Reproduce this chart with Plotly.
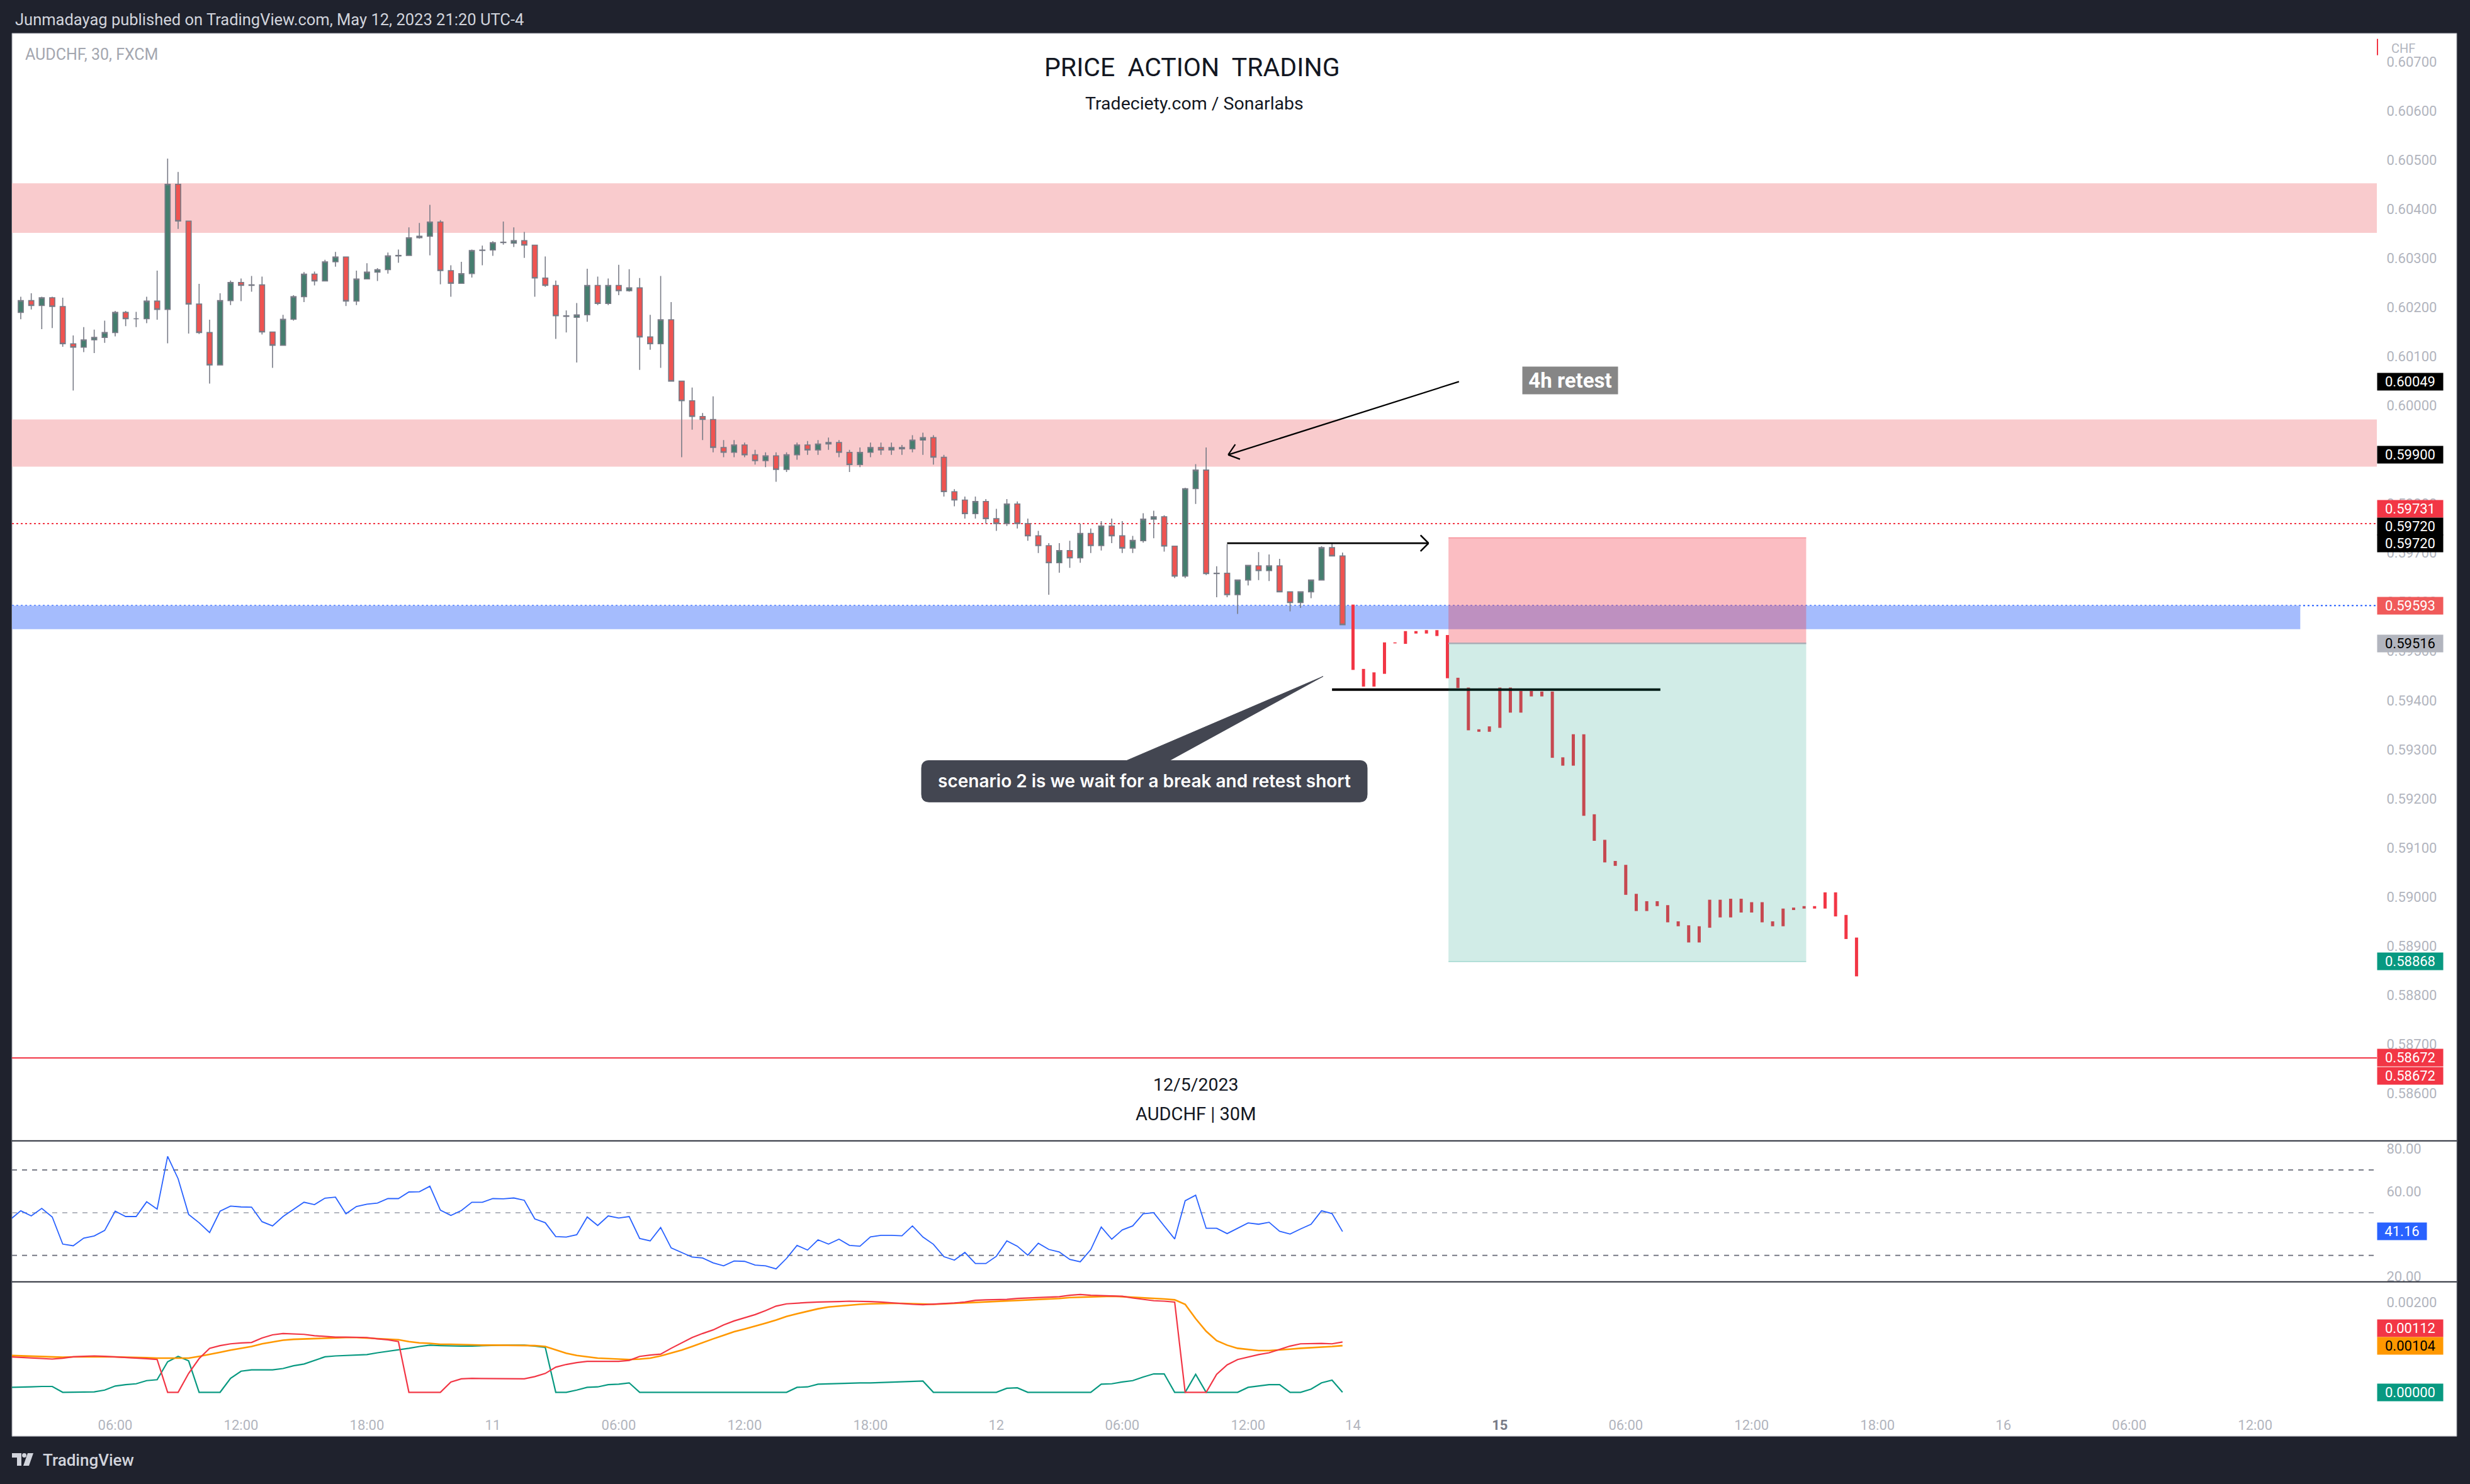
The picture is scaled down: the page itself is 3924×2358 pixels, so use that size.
import math
import plotly.graph_objects as go

W, H = 3924, 2358
FONT = "Roboto, 'Open Sans', 'DejaVu Sans', sans-serif"

# ---------------- data ----------------
candle_idx = list(range(-45, 82))   # 30m bars, 0 = 11 May 00:00
candle_open = [
    0.60190, 0.60214, 0.60204, 0.60220, 0.60202, 0.60126, 0.60119, 0.60134, 0.60139, 0.60149,
    0.60190, 0.60177, 0.60177, 0.60213, 0.60196, 0.60451, 0.60376, 0.60207, 0.60149, 0.60083,
    0.60214, 0.60251, 0.60245, 0.60246, 0.60150, 0.60123, 0.60176, 0.60222, 0.60268, 0.60254,
    0.60293, 0.60303, 0.60213, 0.60258, 0.60272, 0.60277, 0.60305, 0.60306, 0.60342, 0.60345,
    0.60374, 0.60275, 0.60249, 0.60269, 0.60316, 0.60317, 0.60332, 0.60331, 0.60336, 0.60327,
    0.60260, 0.60245, 0.60183, 0.60180, 0.60185, 0.60245, 0.60208, 0.60245, 0.60234, 0.60240,
    0.60140, 0.60126, 0.60175, 0.60050, 0.60010, 0.59978, 0.59972, 0.59915, 0.59905, 0.59920,
    0.59900, 0.59888, 0.59898, 0.59870, 0.59900, 0.59920, 0.59910, 0.59922, 0.59925, 0.59905,
    0.59880, 0.59905, 0.59915, 0.59910, 0.59915, 0.59912, 0.59930, 0.59935, 0.59895, 0.59825,
    0.59808, 0.59780, 0.59805, 0.59770, 0.59760, 0.59800, 0.59760, 0.59735, 0.59715, 0.59680,
    0.59705, 0.59690, 0.59740, 0.59715, 0.59755, 0.59735, 0.59710, 0.59725, 0.59769, 0.59774,
    0.59714, 0.59653, 0.59831, 0.59869, 0.59659, 0.59659, 0.59615, 0.59645, 0.59674, 0.59664,
    0.59674, 0.59621, 0.59599, 0.59621, 0.59645, 0.59711, 0.59694]
candle_high = [
    0.60222, 0.60229, 0.60222, 0.60222, 0.60220, 0.60143, 0.60160, 0.60155, 0.60173, 0.60193,
    0.60193, 0.60191, 0.60222, 0.60275, 0.60503, 0.60476, 0.60376, 0.60248, 0.60175, 0.60229,
    0.60255, 0.60259, 0.60264, 0.60263, 0.60150, 0.60185, 0.60225, 0.60272, 0.60273, 0.60297,
    0.60313, 0.60303, 0.60275, 0.60290, 0.60280, 0.60312, 0.60318, 0.60363, 0.60372, 0.60409,
    0.60378, 0.60286, 0.60293, 0.60318, 0.60326, 0.60335, 0.60375, 0.60363, 0.60354, 0.60327,
    0.60304, 0.60255, 0.60194, 0.60209, 0.60279, 0.60263, 0.60259, 0.60287, 0.60278, 0.60260,
    0.60185, 0.60264, 0.60211, 0.60050, 0.60037, 0.59985, 0.60019, 0.59930, 0.59930, 0.59925,
    0.59910, 0.59905, 0.59905, 0.59905, 0.59925, 0.59928, 0.59930, 0.59935, 0.59930, 0.59910,
    0.59915, 0.59925, 0.59925, 0.59925, 0.59920, 0.59940, 0.59945, 0.59940, 0.59900, 0.59830,
    0.59815, 0.59815, 0.59810, 0.59790, 0.59810, 0.59805, 0.59770, 0.59745, 0.59720, 0.59720,
    0.59725, 0.59760, 0.59750, 0.59765, 0.59770, 0.59765, 0.59735, 0.59781, 0.59786, 0.59777,
    0.59714, 0.59833, 0.59881, 0.59915, 0.59673, 0.59718, 0.59645, 0.59675, 0.59702, 0.59697,
    0.59688, 0.59621, 0.59621, 0.59645, 0.59714, 0.59721, 0.59701]
candle_low = [
    0.60176, 0.60196, 0.60156, 0.60158, 0.60120, 0.60031, 0.60109, 0.60107, 0.60128, 0.60141,
    0.60162, 0.60160, 0.60168, 0.60175, 0.60127, 0.60360, 0.60147, 0.60146, 0.60045, 0.60082,
    0.60205, 0.60213, 0.60232, 0.60145, 0.60077, 0.60123, 0.60173, 0.60211, 0.60245, 0.60254,
    0.60283, 0.60203, 0.60205, 0.60258, 0.60254, 0.60269, 0.60291, 0.60305, 0.60340, 0.60306,
    0.60247, 0.60222, 0.60249, 0.60261, 0.60286, 0.60305, 0.60328, 0.60323, 0.60301, 0.60222,
    0.60242, 0.60136, 0.60149, 0.60088, 0.60171, 0.60205, 0.60205, 0.60225, 0.60232, 0.60073,
    0.60114, 0.60077, 0.60050, 0.59895, 0.59951, 0.59930, 0.59905, 0.59895, 0.59895, 0.59895,
    0.59880, 0.59875, 0.59845, 0.59865, 0.59890, 0.59900, 0.59900, 0.59910, 0.59895, 0.59865,
    0.59875, 0.59895, 0.59900, 0.59900, 0.59900, 0.59905, 0.59900, 0.59880, 0.59815, 0.59795,
    0.59770, 0.59770, 0.59760, 0.59745, 0.59755, 0.59750, 0.59725, 0.59700, 0.59615, 0.59660,
    0.59670, 0.59680, 0.59700, 0.59705, 0.59720, 0.59700, 0.59700, 0.59721, 0.59730, 0.59703,
    0.59649, 0.59649, 0.59800, 0.59655, 0.59610, 0.59610, 0.59576, 0.59634, 0.59645, 0.59643,
    0.59621, 0.59581, 0.59588, 0.59608, 0.59645, 0.59694, 0.59554]
candle_close = [
    0.60214, 0.60204, 0.60220, 0.60202, 0.60126, 0.60119, 0.60134, 0.60139, 0.60149, 0.60190,
    0.60177, 0.60177, 0.60213, 0.60196, 0.60451, 0.60376, 0.60207, 0.60149, 0.60083, 0.60214,
    0.60251, 0.60245, 0.60246, 0.60150, 0.60123, 0.60176, 0.60222, 0.60268, 0.60254, 0.60293,
    0.60303, 0.60213, 0.60258, 0.60272, 0.60277, 0.60305, 0.60306, 0.60342, 0.60345, 0.60374,
    0.60275, 0.60249, 0.60269, 0.60316, 0.60317, 0.60332, 0.60333, 0.60336, 0.60327, 0.60260,
    0.60245, 0.60183, 0.60182, 0.60185, 0.60245, 0.60208, 0.60245, 0.60234, 0.60240, 0.60140,
    0.60126, 0.60175, 0.60050, 0.60010, 0.59978, 0.59972, 0.59915, 0.59905, 0.59920, 0.59900,
    0.59888, 0.59898, 0.59870, 0.59900, 0.59920, 0.59910, 0.59922, 0.59925, 0.59905, 0.59880,
    0.59905, 0.59915, 0.59910, 0.59915, 0.59912, 0.59930, 0.59935, 0.59895, 0.59825, 0.59808,
    0.59780, 0.59805, 0.59770, 0.59760, 0.59800, 0.59760, 0.59735, 0.59715, 0.59680, 0.59705,
    0.59690, 0.59740, 0.59715, 0.59755, 0.59735, 0.59710, 0.59726, 0.59769, 0.59774, 0.59714,
    0.59653, 0.59831, 0.59869, 0.59658, 0.59658, 0.59615, 0.59645, 0.59675, 0.59664, 0.59674,
    0.59621, 0.59599, 0.59621, 0.59645, 0.59711, 0.59694, 0.59554]

# projected "bars pattern" (drawing) after the weekend
pattern_idx = list(range(82, 131))
pattern_high = [
    0.59595, 0.59464, 0.59457, 0.59518, 0.59518, 0.59541, 0.59541, 0.59543, 0.59543, 0.59533,
    0.59446, 0.59426, 0.59341, 0.59347, 0.59426, 0.59426, 0.59419, 0.59419, 0.59418, 0.59418,
    0.59284, 0.59331, 0.59331, 0.59168, 0.59116, 0.59073, 0.59065, 0.59006, 0.58991, 0.58991,
    0.58983, 0.58950, 0.58942, 0.58940, 0.58994, 0.58994, 0.58996, 0.58996, 0.58989, 0.58989,
    0.58950, 0.58976, 0.58978, 0.58981, 0.58981, 0.59009, 0.59009, 0.58963, 0.58917]
pattern_low = [
    0.59462, 0.59428, 0.59428, 0.59454, 0.59516, 0.59515, 0.59536, 0.59536, 0.59531, 0.59445,
    0.59425, 0.59339, 0.59336, 0.59336, 0.59344, 0.59375, 0.59375, 0.59408, 0.59408, 0.59283,
    0.59267, 0.59267, 0.59165, 0.59114, 0.59070, 0.59063, 0.59004, 0.58971, 0.58971, 0.58981,
    0.58948, 0.58940, 0.58907, 0.58907, 0.58937, 0.58958, 0.58958, 0.58968, 0.58968, 0.58948,
    0.58940, 0.58940, 0.58973, 0.58976, 0.58976, 0.58976, 0.58960, 0.58914, 0.58838]

ind_idx = list(range(-46, 82))
rsi = [
    46.8, 50.9, 48.5, 52.0, 48.0, 35.3, 34.5, 38.1, 39.1, 41.7,
    50.7, 48.2, 48.2, 55.1, 51.7, 76.4, 65.9, 49.2, 45.3, 40.7,
    50.7, 53.1, 52.7, 52.6, 45.8, 43.8, 48.2, 51.5, 54.9, 53.8,
    56.8, 57.3, 49.5, 52.9, 54.0, 54.5, 56.6, 56.6, 59.7, 59.8,
    62.4, 51.2, 48.7, 51.0, 54.9, 54.9, 56.6, 56.5, 56.9, 55.8,
    47.1, 45.3, 38.8, 38.6, 39.7, 48.0, 44.0, 48.5, 47.5, 48.2,
    37.9, 36.8, 43.1, 33.5, 31.3, 29.2, 28.8, 26.5, 25.1, 27.4,
    27.2, 25.5, 25.1, 23.7, 28.6, 34.7, 32.5, 37.3, 35.3, 37.6,
    34.7, 34.3, 38.7, 39.4, 39.4, 39.2, 43.8, 38.6, 35.2, 29.4,
    27.8, 31.4, 26.2, 26.2, 29.6, 36.8, 34.3, 30.1, 35.7, 32.8,
    31.6, 28.1, 27.0, 32.7, 43.3, 37.6, 41.9, 43.8, 49.5, 50.0,
    43.8, 37.7, 55.6, 58.2, 42.7, 42.7, 40.2, 42.7, 45.2, 44.6,
    45.5, 41.3, 40.0, 42.4, 44.6, 50.9, 49.6, 41.16]
ind_red = [
    0.00079, 0.00078, 0.00077, 0.00075, 0.00074, 0.00076, 0.00079, 0.00080, 0.00081, 0.00080,
    0.00079, 0.00078, 0.00077, 0.00075, 0.00073, 0.0, 0.0, 0.00042, 0.00075, 0.00098,
    0.00104, 0.00108, 0.00110, 0.00111, 0.00121, 0.00128, 0.00131, 0.00130, 0.00129, 0.00126,
    0.00124, 0.00123, 0.00123, 0.00122, 0.00122, 0.00119, 0.00117, 0.00113, 0.0, 0.0,
    0.0, 0.0, 0.00023, 0.00030, 0.00031, 0.00031, 0.00031, 0.00031, 0.00031, 0.00030,
    0.00035, 0.00042, 0.00056, 0.00062, 0.00066, 0.00069, 0.00069, 0.00069, 0.00069, 0.00071,
    0.00080, 0.00083, 0.00085, 0.00098, 0.00110, 0.00122, 0.00131, 0.00139, 0.00150, 0.00159,
    0.00166, 0.00173, 0.00182, 0.00192, 0.00197, 0.00199, 0.00200, 0.00201, 0.00201, 0.00202,
    0.00203, 0.00203, 0.00202, 0.00201, 0.00199, 0.00198, 0.00196, 0.00195, 0.00196, 0.00197,
    0.00199, 0.00201, 0.00205, 0.00206, 0.00206, 0.00207, 0.00209, 0.00210, 0.00211, 0.00211,
    0.00213, 0.00216, 0.00218, 0.00216, 0.00215, 0.00214, 0.00214, 0.00210, 0.00207, 0.00204,
    0.00203, 0.00201, 0.0, 0.0, 0.0, 0.00040, 0.00061, 0.00073, 0.00079, 0.00084,
    0.00088, 0.00096, 0.00103, 0.00108, 0.00109, 0.00109, 0.00108, 0.00112]
ind_orange = [
    0.00082, 0.00081, 0.00080, 0.00079, 0.00078, 0.00078, 0.00079, 0.00079, 0.00080, 0.00079,
    0.00079, 0.00078, 0.00078, 0.00077, 0.00076, 0.00076, 0.00075, 0.00076, 0.00080, 0.00084,
    0.00089, 0.00094, 0.00098, 0.00102, 0.00108, 0.00112, 0.00116, 0.00118, 0.00119, 0.00120,
    0.00121, 0.00121, 0.00122, 0.00122, 0.00121, 0.00120, 0.00119, 0.00117, 0.00113, 0.00110,
    0.00109, 0.00107, 0.00107, 0.00106, 0.00105, 0.00105, 0.00105, 0.00105, 0.00105, 0.00104,
    0.00104, 0.00102, 0.00094, 0.00087, 0.00082, 0.00079, 0.00076, 0.00075, 0.00074, 0.00073,
    0.00074, 0.00076, 0.00081, 0.00087, 0.00094, 0.00102, 0.00111, 0.00119, 0.00127, 0.00135,
    0.00141, 0.00147, 0.00154, 0.00161, 0.00169, 0.00175, 0.00181, 0.00186, 0.00190, 0.00192,
    0.00195, 0.00196, 0.00197, 0.00198, 0.00198, 0.00198, 0.00197, 0.00197, 0.00196, 0.00197,
    0.00198, 0.00199, 0.00200, 0.00201, 0.00203, 0.00204, 0.00205, 0.00206, 0.00207, 0.00208,
    0.00209, 0.00211, 0.00212, 0.00213, 0.00214, 0.00214, 0.00213, 0.00212, 0.00211, 0.00210,
    0.00208, 0.00206, 0.00196, 0.00164, 0.00136, 0.00115, 0.00105, 0.00098, 0.00095, 0.00093,
    0.00093, 0.00094, 0.00096, 0.00098, 0.00099, 0.00101, 0.00102, 0.00104]
ind_green = [
    0.00011, 0.00011, 0.00012, 0.00013, 0.00013, 0.0, 0.0, 0.0, 0.00001, 0.00005,
    0.00014, 0.00017, 0.00019, 0.00026, 0.00028, 0.00068, 0.00080, 0.00070, 0.0, 0.0,
    0.0, 0.00031, 0.00047, 0.00050, 0.00050, 0.00050, 0.00053, 0.00059, 0.00063, 0.00071,
    0.00079, 0.00081, 0.00082, 0.00083, 0.00084, 0.00088, 0.00091, 0.00095, 0.00098, 0.00102,
    0.00105, 0.00104, 0.00103, 0.00103, 0.00103, 0.00104, 0.00104, 0.00105, 0.00105, 0.00105,
    0.00103, 0.00100, 0.0, 0.0, 0.00005, 0.00011, 0.00012, 0.00017, 0.00018, 0.00021,
    0.0, 0.0, 0.0, 0.0, 0.0, 0.0, 0.0, 0.0, 0.0, 0.0,
    0.00001, 0.0, 0.0, 0.0, 0.0, 0.00011, 0.00012, 0.00018, 0.00019, 0.00019,
    0.00020, 0.00021, 0.00021, 0.00022, 0.00023, 0.00023, 0.00024, 0.00025, 0.0, 0.0,
    0.0, 0.0, 0.0, 0.0, 0.0, 0.00009, 0.00010, 0.0, 0.0, 0.0,
    0.0, 0.0, 0.0, 0.0, 0.00018, 0.00019, 0.00023, 0.00026, 0.00034, 0.00041,
    0.00041, 0.0, 0.0, 0.00040, 0.0, 0.0, 0.0, 0.0, 0.00011, 0.00014,
    0.00017, 0.00017, 0.0, 0.0, 0.00007, 0.00021, 0.00027, 0.0]

time_tick_idx = [-36, -24, -12, 0, 12, 24, 36, 48, 60, 72, 82, 96, 108, 120, 132, 144, 156, 168]
time_tick_text = ["06:00", "12:00", "18:00", "11", "06:00", "12:00", "18:00", "12", "06:00",
                  "12:00", "14", "<span style='color:#787b86'><b>15</b></span>", "06:00", "12:00",
                  "18:00", "16", "06:00", "12:00"]

# drawing levels
zone_upper = [0.60352, 0.60453]
zone_middle = [0.59876, 0.59972]
zone_blue = [0.59545, 0.59593]
zone_blue_end = 172.3
red_dotted_level = 0.59760
blue_dotted_level = 0.59593
bottom_line_level = 0.58672
entry, stop, target = 0.59516, 0.59731, 0.58868
position_x = [91.1, 125.2]
break_line = [(80.0, 0.59422), (111.3, 0.59422)]
retest_arrow = [(92.1, 0.60049), (70.1, 0.59900)]
ray_arrow = [(70.0, 0.59720), (89.2, 0.59720)]

# ---------------- geometry ----------------
PLOT_L, PLOT_R = 19, 3776
MAIN_T, MAIN_B = 53, 1816
RSI_T, RSI_B = 1817, 2041
IND_T, IND_B = 2041, 2245

def fx(p):
    return p / W

def fy(p):
    return 1 - p / H

XR = [-45.84, 179.6]
YR = [0.585038, 0.607583]
RSI_R = [17.65, 83.53]
IND_R = [-0.000392, 0.002462]
KX = (PLOT_R - PLOT_L) / (XR[1] - XR[0])
KY = (MAIN_B - MAIN_T) / (YR[1] - YR[0])

fig = go.Figure()

fig.add_trace(go.Candlestick(
    x=candle_idx, open=candle_open, high=candle_high, low=candle_low, close=candle_close,
    increasing=dict(fillcolor="#457e6f", line=dict(color="#787b86", width=1.6)),
    decreasing=dict(fillcolor="#ef5350", line=dict(color="#787b86", width=1.6)),
    xaxis="x", yaxis="y", hoverinfo="skip"))

px_, py_ = [], []
for i, hi, lo in zip(pattern_idx, pattern_high, pattern_low):
    px_ += [i, i, None]
    py_ += [lo, hi, None]
fig.add_trace(go.Scatter(x=px_, y=py_, mode="lines", line=dict(color="#f23645", width=5),
                         xaxis="x", yaxis="y", hoverinfo="skip"))

fig.add_trace(go.Scatter(x=ind_idx, y=rsi, mode="lines", line=dict(color="#2962ff", width=1.8),
                         xaxis="x2", yaxis="y2", hoverinfo="skip"))
fig.add_trace(go.Scatter(x=ind_idx, y=ind_green, mode="lines", line=dict(color="#089981", width=2.2),
                         xaxis="x3", yaxis="y3", hoverinfo="skip"))
fig.add_trace(go.Scatter(x=ind_idx, y=ind_orange, mode="lines", line=dict(color="#ff9800", width=2.6),
                         xaxis="x3", yaxis="y3", hoverinfo="skip"))
fig.add_trace(go.Scatter(x=ind_idx, y=ind_red, mode="lines", line=dict(color="#f23645", width=2.2),
                         xaxis="x3", yaxis="y3", hoverinfo="skip"))

shapes = []
# white panel
shapes.append(dict(type="rect", xref="paper", yref="paper", x0=fx(19), x1=fx(3903), y0=fy(2287), y1=fy(53),
                   fillcolor="#ffffff", line=dict(color="#9598a1", width=1), layer="below"))
# zones (below)
for lo, hi in (zone_upper, zone_middle):
    shapes.append(dict(type="rect", xref="x domain", yref="y", x0=0, x1=1, y0=lo, y1=hi,
                       fillcolor="#f9cbcd", line=dict(width=0), layer="below"))
shapes.append(dict(type="rect", xref="x", yref="y", x0=XR[0] - 5, x1=zone_blue_end, y0=zone_blue[0], y1=zone_blue[1],
                   fillcolor="#a5bcfd", line=dict(width=0), layer="below"))
shapes.append(dict(type="line", xref="x domain", yref="y", x0=0, x1=1, y0=red_dotted_level, y1=red_dotted_level,
                   line=dict(color="#f23645", width=2, dash="3px,4px"), layer="below"))
shapes.append(dict(type="line", xref="x domain", yref="y", x0=0, x1=1, y0=blue_dotted_level, y1=blue_dotted_level,
                   line=dict(color="#2962ff", width=2, dash="3px,4px"), layer="below"))
shapes.append(dict(type="line", xref="x domain", yref="y", x0=0, x1=1, y0=bottom_line_level, y1=bottom_line_level,
                   line=dict(color="#f23645", width=2), layer="below"))
# RSI guide lines
for lvl, col in ((70, "#787b86"), (50, "#b2b5be"), (30, "#787b86")):
    shapes.append(dict(type="line", xref="x2 domain", yref="y2", x0=0, x1=1, y0=lvl, y1=lvl,
                       line=dict(color=col, width=2, dash="8px,8px"), layer="below"))
# pane separators
for yy in (MAIN_B + 0.5, RSI_B):
    shapes.append(dict(type="line", xref="paper", yref="paper", x0=fx(19), x1=fx(3903), y0=fy(yy), y1=fy(yy),
                       line=dict(color="#2a2e39", width=2), layer="above"))

# break line (under the position tool)
shapes.append(dict(type="line", xref="x", yref="y", x0=break_line[0][0], x1=break_line[1][0],
                   y0=break_line[0][1], y1=break_line[1][1], line=dict(color="#000000", width=4), layer="above"))
# position tool
shapes.append(dict(type="rect", xref="x", yref="y", x0=position_x[0], x1=position_x[1], y0=entry, y1=stop,
                   fillcolor="rgba(242,54,69,0.33)", line=dict(width=0), layer="above"))
shapes.append(dict(type="rect", xref="x", yref="y", x0=position_x[0], x1=position_x[1], y0=target, y1=entry,
                   fillcolor="rgba(8,153,129,0.19)", line=dict(width=0), layer="above"))
shapes.append(dict(type="line", xref="x", yref="y", x0=position_x[0], x1=position_x[1], y0=stop, y1=stop,
                   line=dict(color="rgba(242,54,69,0.45)", width=1.5), layer="above"))
shapes.append(dict(type="line", xref="x", yref="y", x0=position_x[0], x1=position_x[1], y0=entry, y1=entry,
                   line=dict(color="#a9acb5", width=2.5), layer="above"))
shapes.append(dict(type="line", xref="x", yref="y", x0=position_x[0], x1=position_x[1], y0=target, y1=target,
                   line=dict(color="rgba(8,153,129,0.3)", width=1.5), layer="above"))


def arrow(a, b, width, head=20, ang=38):
    out = [dict(type="line", xref="x", yref="y", x0=a[0], y0=a[1], x1=b[0], y1=b[1],
                line=dict(color="#000000", width=width), layer="above")]
    dx = (b[0] - a[0]) * KX
    dy = (b[1] - a[1]) * KY
    L = math.hypot(dx, dy)
    vx, vy = -dx / L, -dy / L
    for s in (1, -1):
        t = math.radians(ang) * s
        rx = vx * math.cos(t) - vy * math.sin(t)
        ry = vx * math.sin(t) + vy * math.cos(t)
        out.append(dict(type="line", xref="x", yref="y", x0=b[0], y0=b[1],
                        x1=b[0] + head * rx / KX, y1=b[1] + head * ry / KY,
                        line=dict(color="#000000", width=width), layer="above"))
    return out


shapes += arrow(retest_arrow[0], retest_arrow[1], 2.2)
shapes += arrow(ray_arrow[0], ray_arrow[1], 2.6, head=18, ang=45)


def P(x, y):
    return f"{fx(x):.6f},{fy(y):.6f}"


# callout bubble with a tail
bx0, by0, bx1, by1, r = 1464, 1211, 2172, 1277, 12
path = (f"M{P(bx0 + r, by0)} L{P(1790, by0)} L{P(2102, 1077)} L{P(1858, by0)} L{P(bx1 - r, by0)} "
        f"Q{P(bx1, by0)} {P(bx1, by0 + r)} L{P(bx1, by1 - r)} Q{P(bx1, by1)} {P(bx1 - r, by1)} "
        f"L{P(bx0 + r, by1)} Q{P(bx0, by1)} {P(bx0, by1 - r)} L{P(bx0, by0 + r)} Q{P(bx0, by0)} {P(bx0 + r, by0)} Z")
shapes.append(dict(type="path", xref="paper", yref="paper", path=path, fillcolor="#434651",
                   line=dict(color="#434651", width=1), layer="above"))
# CHF marker
shapes.append(dict(type="line", xref="paper", yref="paper", x0=fx(3777), x1=fx(3777), y0=fy(62), y1=fy(88),
                   line=dict(color="#f23645", width=2), layer="above"))
# TradingView logo
logo = (f"M{P(19, 2314)} L{P(34, 2314)} L{P(34, 2334)} L{P(27, 2334)} L{P(27, 2321)} L{P(19, 2321)} Z "
        f"M{P(44, 2314)} L{P(53, 2314)} L{P(46, 2334)} L{P(37, 2334)} Z")
shapes.append(dict(type="path", xref="paper", yref="paper", path=logo, fillcolor="#d1d4dc",
                   line=dict(width=0), layer="above"))
shapes.append(dict(type="circle", xref="paper", yref="paper", x0=fx(35), x1=fx(42), y0=fy(2321), y1=fy(2314),
                   fillcolor="#d1d4dc", line=dict(width=0), layer="above"))

ann = []


def text(x, y, s, size, color="#131722", anchor="center", weight=None, family=FONT):
    f = dict(size=size, color=color, family=family)
    if weight:
        f["weight"] = weight
    ann.append(dict(xref="paper", yref="paper", x=fx(x), y=fy(y), text=s, showarrow=False,
                    xanchor=anchor, yanchor="middle", font=f))


text(22, 31, "Junmadayag published on TradingView.com, May 12, 2023 21:20 UTC-4", 25.5, "#d1d4dc", "left")
text(38, 87, "AUDCHF, 30, FXCM", 25, "#a3a6af", "left")
text(1894, 107, "PRICE  ACTION  TRADING", 41)
text(1897, 165, "Tradeciety.com / Sonarlabs", 28.5)
text(1900, 1727, "12/5/2023", 28.5)
text(1900, 1774, "AUDCHF | 30M", 29)
text(3797, 77, "CHF", 20, "#b2b5be", "left")
text(66, 2325, "TradingView", 26, "#d1d4dc", "left", weight=500)
text(1818, 1244, "scenario 2 is we wait for a break and retest short", 28, "#ffffff", weight=600,
     family="Inter, Roboto, sans-serif")

ann.append(dict(xref="x", yref="y", x=102.7, y=0.60052, text="4h retest", showarrow=False,
                xanchor="center", yanchor="middle", bgcolor="#868686", width=147, height=39, borderpad=2,
                font=dict(size=33, color="#ffffff", family=FONT, weight=700)))


def axis_label(s, y, yref, bg, fg, yshift=0, w=102):
    ann.append(dict(xref="paper", x=fx(PLOT_R), xanchor="left", yref=yref, y=y, yanchor="middle",
                    text=s, showarrow=False, bgcolor=bg, width=w, height=25, borderpad=1, yshift=yshift,
                    align="center", font=dict(size=22, color=fg, family=FONT)))


axis_label("0.60049", 0.60049, "y", "#000000", "#ffffff")
axis_label("0.59900", 0.59900, "y", "#000000", "#ffffff")
axis_label("0.59731", 0.59731, "y", "#f23645", "#ffffff", yshift=46)
axis_label("0.59720", 0.59720, "y", "#000000", "#ffffff", yshift=27)
axis_label("0.59720", 0.59720, "y", "#000000", "#ffffff")
axis_label("0.59593", 0.59593, "y", "#f05a5a", "#ffffff")
axis_label("0.59516", 0.59516, "y", "#b2b5be", "#000000")
axis_label("0.58868", 0.58868, "y", "#089981", "#ffffff")
axis_label("0.58672", 0.58672, "y", "#f23645", "#ffffff")
axis_label("0.58672", 0.58672, "y", "#f23645", "#ffffff", yshift=-29)
axis_label("41.16", rsi[-1], "y2", "#2962ff", "#ffffff", w=76)
axis_label("0.00112", ind_red[-1], "y3", "#f23645", "#ffffff", yshift=22)
axis_label("0.00104", ind_orange[-1], "y3", "#ff9800", "#000000")
axis_label("0.00000", ind_green[-1], "y3", "#089981", "#ffffff")

XD = [fx(PLOT_L), fx(PLOT_R)]
tickfont = dict(size=22, color="#b2b5be", family=FONT)
common_x = dict(domain=XD, range=XR, showgrid=False, zeroline=False, showline=False, fixedrange=True)
common_y = dict(side="right", showgrid=False, zeroline=False, showline=False, ticks="outside", ticklen=10,
                tickcolor="rgba(0,0,0,0)", tickfont=tickfont, fixedrange=True)

fig.update_layout(
    width=W, height=H, margin=dict(l=0, r=0, t=0, b=0), autosize=False,
    paper_bgcolor="#1f222d", plot_bgcolor="rgba(0,0,0,0)", showlegend=False,
    xaxis=dict(common_x, anchor="y", showticklabels=False, rangeslider=dict(visible=False)),
    xaxis2=dict(common_x, anchor="y2", showticklabels=False),
    xaxis3=dict(common_x, anchor="y3", tickvals=time_tick_idx, ticktext=time_tick_text,
                ticks="outside", ticklen=4, tickcolor="rgba(0,0,0,0)",
                tickfont=dict(size=22, color="#b2b5be", family=FONT)),
    yaxis=dict(common_y, anchor="x", domain=[fy(MAIN_B), fy(MAIN_T)], range=YR, dtick=0.001, tick0=0.6,
               tickformat=".5f"),
    yaxis2=dict(common_y, anchor="x2", domain=[fy(RSI_B), fy(RSI_T)], range=RSI_R, dtick=20, tick0=0,
                tickformat=".2f"),
    yaxis3=dict(common_y, anchor="x3", domain=[fy(IND_B), fy(IND_T)], range=IND_R, dtick=0.001, tick0=0,
                tickformat=".5f"),
    shapes=shapes, annotations=ann,
)

fig.write_html("out.html", config={"displayModeBar": False},
               post_script="document.body.style.margin='0';document.body.style.overflow='hidden';")
